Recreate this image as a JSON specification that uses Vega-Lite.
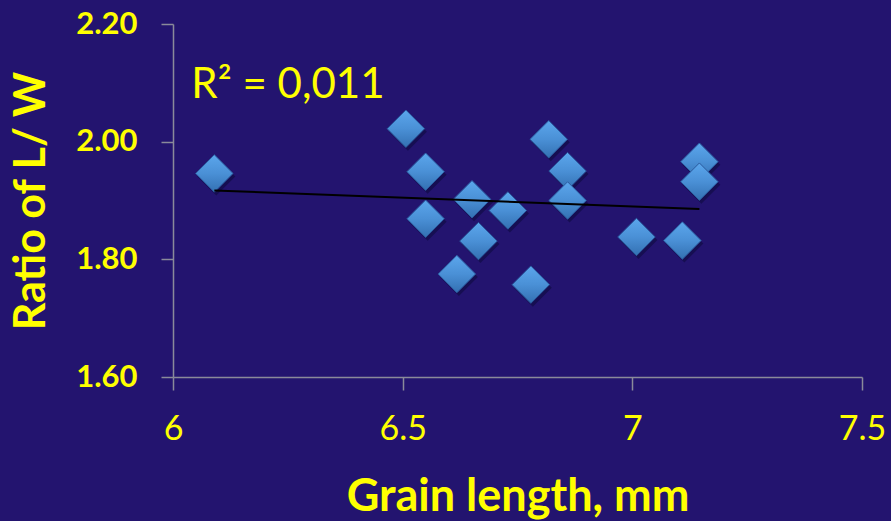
{
  "$schema": "https://vega.github.io/schema/vega-lite/v6.json",
  "autosize": {"type": "none"},
  "padding": {"left": 173, "top": 24, "right": 29, "bottom": 144},
  "width": 689,
  "height": 353,
  "background": "#23146F",
  "config": {
    "view": {"stroke": null},
    "font": "Lato",
    "axis": {
      "grid": false,
      "domainColor": "#8A8A9A",
      "domainWidth": 1.5,
      "tickColor": "#8A8A9A",
      "tickWidth": 1.5,
      "labelColor": "#FFFF00",
      "titleColor": "#FFFF00",
      "labelFont": "Lato",
      "titleFont": "Lato"
    }
  },
  "data": {
    "values": [
      {"length": 6.090, "ratio": 1.946},
      {"length": 6.507, "ratio": 2.022},
      {"length": 6.550, "ratio": 1.949},
      {"length": 6.550, "ratio": 1.869},
      {"length": 6.618, "ratio": 1.775},
      {"length": 6.651, "ratio": 1.902},
      {"length": 6.665, "ratio": 1.831},
      {"length": 6.729, "ratio": 1.883},
      {"length": 6.779, "ratio": 1.757},
      {"length": 6.818, "ratio": 2.004},
      {"length": 6.859, "ratio": 1.950},
      {"length": 6.859, "ratio": 1.900},
      {"length": 7.009, "ratio": 1.838},
      {"length": 7.109, "ratio": 1.832},
      {"length": 7.146, "ratio": 1.966},
      {"length": 7.146, "ratio": 1.932}
    ]
  },
  "layer": [
    {
      "mark": {"type": "point", "shape": "diamond", "filled": true, "size": 1444, "color": "#0E0A40", "opacity": 0.6, "xOffset": 2, "yOffset": 3},
      "encoding": {
        "x": {
          "field": "length", "type": "quantitative",
          "scale": {"domain": [6, 7.5], "nice": false, "zero": false},
          "axis": {
            "values": [6, 6.5, 7, 7.5],
            "format": "~g",
            "tickSize": 13,
            "labelFontSize": 34,
            "labelFontWeight": "normal",
            "labelPadding": 22,
            "labelFlush": false,
            "title": "Grain length, mm",
            "titleFontSize": 45,
            "titleFontWeight": "bold",
            "titlePadding": 28
          }
        },
        "y": {
          "field": "ratio", "type": "quantitative",
          "scale": {"domain": [1.6, 2.2], "nice": false, "zero": false},
          "axis": {
            "values": [1.6, 1.8, 2.0, 2.2],
            "format": ".2f",
            "tickSize": 12,
            "labelFontSize": 31,
            "labelFontWeight": "bold",
            "labelPadding": 24,
            "labelFlush": false,
            "title": "Ratio of L/ W",
            "titleFontSize": 43,
            "titleFontWeight": "bold",
            "titlePadding": 22
          }
        }
      }
    },
    {
      "mark": {
        "type": "point", "shape": "diamond", "filled": true, "size": 1400, "opacity": 1,
        "fill": {"gradient": "linear", "x1": 0, "y1": 0, "x2": 0, "y2": 1,
          "stops": [{"offset": 0, "color": "#5BA6EC"}, {"offset": 0.5, "color": "#4A90D6"}, {"offset": 1, "color": "#3370B2"}]},
        "stroke": "#2A5A9E", "strokeWidth": 1
      },
      "encoding": {
        "x": {"field": "length", "type": "quantitative"},
        "y": {"field": "ratio", "type": "quantitative"}
      }
    },
    {
      "transform": [{"regression": "ratio", "on": "length"}],
      "mark": {"type": "line", "color": "#000000", "strokeWidth": 2},
      "encoding": {
        "x": {"field": "length", "type": "quantitative"},
        "y": {"field": "ratio", "type": "quantitative"}
      }
    },
    {
      "data": {"values": [{"label": "R² = 0,011", "length": 6.04, "ratio": 2.074}]},
      "mark": {"type": "text", "align": "left", "baseline": "alphabetic", "fontSize": 42, "font": "Lato", "color": "#FFFF00"},
      "encoding": {
        "x": {"field": "length", "type": "quantitative"},
        "y": {"field": "ratio", "type": "quantitative"},
        "text": {"field": "label"}
      }
    }
  ]
}
